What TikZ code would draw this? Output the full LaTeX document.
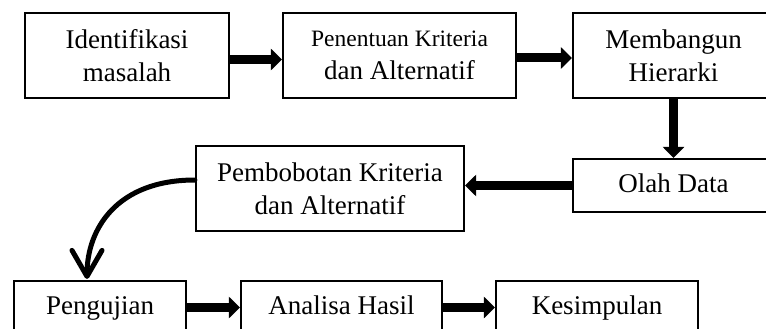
\documentclass[tikz,border=0pt]{standalone}
\usepackage{fontspec}
\setmainfont{Liberation Serif}
\usetikzlibrary{arrows.meta}
\begin{document}
\begin{tikzpicture}[x=1pt,y=-1pt,
  box/.style={draw=black,line width=2.2pt,rectangle,inner sep=0pt,align=center,
    font=\fontsize{27}{33}\selectfont},
  onebox/.style={box,text height=19pt,text depth=6pt},
  thickarrow/.style={line width=9pt,-{Triangle[length=11pt,width=21pt]}},
  curvearrow/.style={line width=5pt,line cap=round,-{Straight Barb[length=26pt,width=30pt,round]}}]
\useasboundingbox (0,0) rectangle (766,329);
\clip (0,0) rectangle (766,329);
\node[box,minimum width=204pt,minimum height=85pt] (ident) at (127,55.5) {Identifikasi\\masalah};
\node[box,minimum width=233pt,minimum height=85pt] (pen) at (399.5,55.5) {{\fontsize{23.5}{33}\selectfont Penentuan Kriteria}\\dan Alternatif};
\node[box,minimum width=201pt,minimum height=85pt] (mem) at (673.5,55.5) {Membangun\\Hierarki};
\node[onebox,minimum width=201pt,minimum height=53pt] (olah) at (673.5,185.5) {Olah Data};
\node[box,minimum width=268pt,minimum height=85pt] (pem) at (330,188.5) {Pembobotan Kriteria\\dan Alternatif};
\node[onebox,minimum width=172pt,minimum height=53pt] (peng) at (100,307.5) {Pengujian};
\node[onebox,minimum width=201pt,minimum height=53pt] (anal) at (341.5,307.5) {Analisa Hasil};
\node[onebox,minimum width=202pt,minimum height=53pt] (kes) at (597,307.5) {Kesimpulan};
\draw[thickarrow] ([yshift=-4pt]ident.east) -- ([yshift=-4pt]pen.west);
\draw[thickarrow] ([yshift=-2.5pt]pen.east) -- ([yshift=-2.5pt]mem.west);
\draw[thickarrow] (mem.south) -- (olah.north);
\draw[thickarrow] (olah.west) -- (olah.west -| pem.east);
\draw[curvearrow] ([yshift=8.5pt]pem.west) .. controls +(-78,0) and +(0,-50) .. ([xshift=-13pt,yshift=1pt]peng.north);
\draw[thickarrow] (peng.east) -- (anal.west);
\draw[thickarrow] (anal.east) -- (kes.west);
\end{tikzpicture}
\end{document}
